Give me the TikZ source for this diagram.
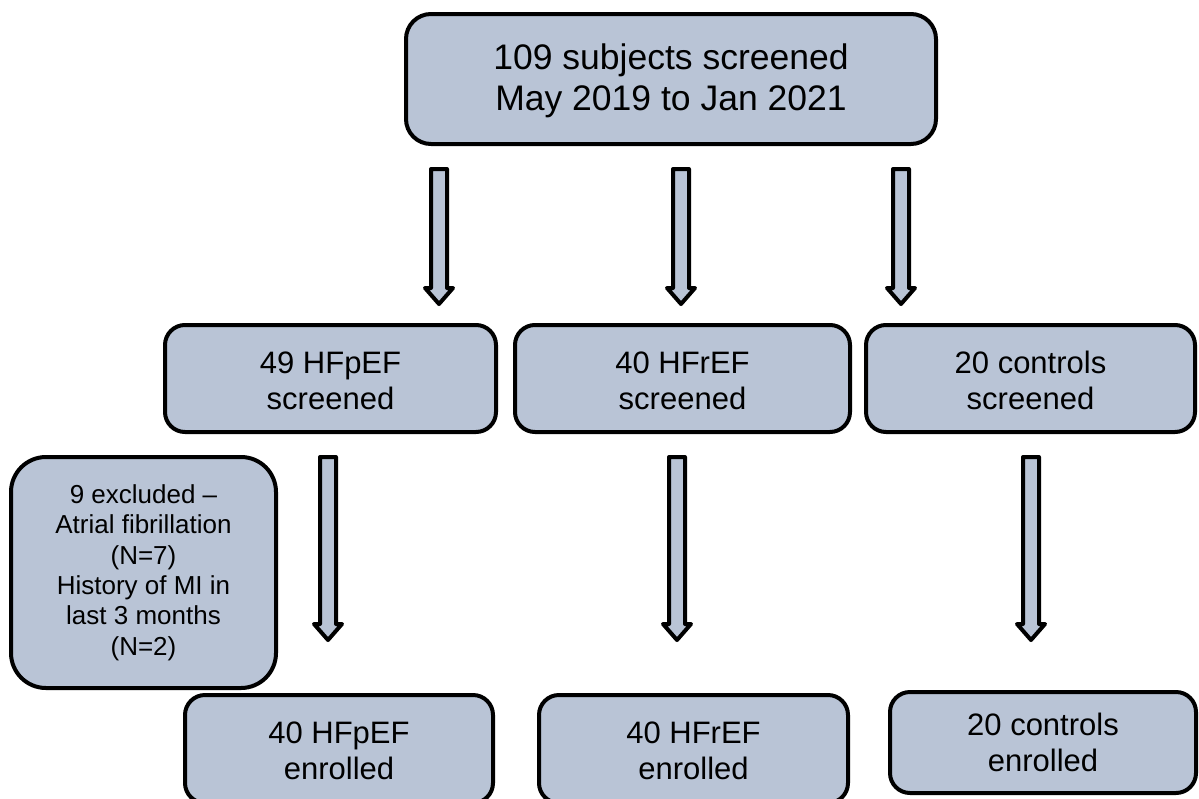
\documentclass[tikz,border=0pt]{standalone}
\usepackage{fontspec}
\setmainfont{Liberation Sans}
\usetikzlibrary{calc}
\definecolor{boxfill}{RGB}{185,196,214}
\begin{document}
\begin{tikzpicture}[x=1pt,y=-1pt,
  box/.style={draw=black,line width=4pt,fill=boxfill,rounded corners=#1,
    align=center,inner sep=0pt,text=black},
  box/.default=20pt,
  bigtxt/.style={font=\fontsize{35.5}{41}\selectfont},
  midtxt/.style={font=\fontsize{31}{36}\selectfont},
  smalltxt/.style={font=\fontsize{26}{30.4}\selectfont},
  blockarrow/.style={draw=black,line width=4pt,fill=boxfill,line join=round,
    to path={let \p1=(\tikztostart), \p2=(\tikztotarget) in
      (\x1-8pt,\y1) -- (\x1+8pt,\y1) -- (\x1+8pt,\y2+16pt) -- (\x1+14pt,\y2+16pt)
      -- (\x1,\y2) -- (\x1-14pt,\y2+16pt) -- (\x1-8pt,\y2+16pt) -- cycle}}
]
\clip (0,0) rectangle (1199,798);
\useasboundingbox (0,0) rectangle (1199,798);
\fill[white] (0,0) rectangle (1199,798);

\node[box=25pt,bigtxt,minimum width=530pt,minimum height=130pt] (top) at (671,79)
  {\rule{0pt}{30pt}109 subjects screened\\May 2019 to Jan 2021};

\node[box,midtxt,minimum width=331pt,minimum height=107pt] (hfp) at (330.5,378.5)
  {\rule{0pt}{26pt}49 HFpEF\\screened};
\node[box,midtxt,minimum width=335pt,minimum height=107pt] (hfr) at (682.5,378.5)
  {\rule{0pt}{26pt}40 HFrEF\\screened};
\node[box,midtxt,minimum width=329pt,minimum height=107pt] (ctl) at (1030.5,378.5)
  {\rule{0pt}{26pt}20 controls\\screened};

\node[box,midtxt,minimum width=308pt,minimum height=108pt] (hfpE) at (339,749)
  {\rule{0pt}{26pt}40 HFpEF\\enrolled};
\node[box,midtxt,minimum width=309pt,minimum height=108pt] (hfrE) at (693.5,749)
  {\rule{0pt}{26pt}40 HFrEF\\enrolled};
\node[box,midtxt,minimum width=306pt,minimum height=101pt] (ctlE) at (1043,742.5)
  {20 controls\\enrolled};

\node[box=35pt,smalltxt,minimum width=265pt,minimum height=231pt] (excl) at (143.5,572.5)
  {9 excluded --\\Atrial fibrillation\\(N=7)\\History of MI in\\last 3 months\\(N=2)};

% block arrows
\coordinate (a1s) at (439,169);  \coordinate (a1e) at (439,304);
\coordinate (a2s) at (681,169);  \coordinate (a2e) at (681,304);
\coordinate (a3s) at (901,169);  \coordinate (a3e) at (901,304);
\coordinate (b1s) at (328,457);  \coordinate (b1e) at (328,640);
\coordinate (b2s) at (677,457);  \coordinate (b2e) at (677,640);
\coordinate (b3s) at (1031,457); \coordinate (b3e) at (1031,640);
\foreach \s/\e in {a1s/a1e,a2s/a2e,a3s/a3e,b1s/b1e,b2s/b2e,b3s/b3e}
  \path[blockarrow] (\s) to (\e);
\end{tikzpicture}
\end{document}
